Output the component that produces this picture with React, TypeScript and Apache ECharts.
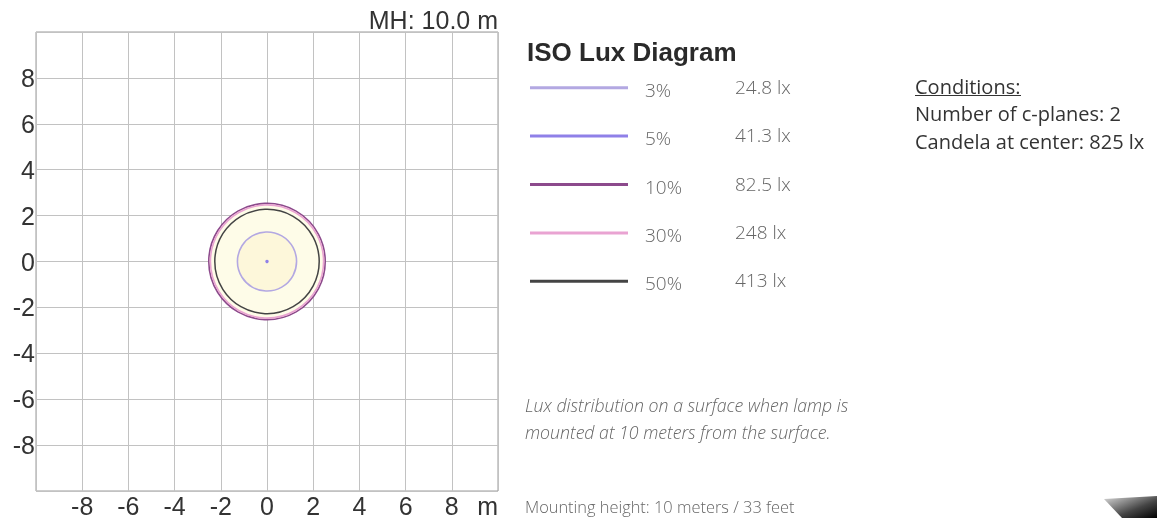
import React, { useEffect, useRef } from "react";
import * as echarts from "echarts";

// ---- data ----
const axisMin = -10;
const axisMax = 10;
const axisStep = 2;
const axisUnit = "m";
const mountingHeightLabel = "MH: 10.0 m";

const levelLabels = ["3%", "5%", "10%", "30%", "50%"];
const luxLabels = ["24.8 lx", "41.3 lx", "82.5 lx", "248 lx", "413 lx"];
const levelColors = ["#b3a8e2", "#8f80e8", "#8c4a8c", "#e9a3d2", "#444444"];
// radius (m) of each contour, listed by level
const contourRadii = [1.28, 0.04, 2.52, 2.45, 2.26];

const titleText = "ISO Lux Diagram";
const conditionsTitle = "Conditions:";
const conditionLines = ["Number of c-planes: 2", "Candela at center: 825 lx"];
const noteLines = [
  "Lux distribution on a surface when lamp is",
  "mounted at 10 meters from the surface.",
];
const footerText = "Mounting height: 10 meters / 33 feet";

export default function App() {
  const ref = useRef<HTMLDivElement>(null);

  useEffect(() => {
    if (!ref.current) return;
    const chart = echarts.init(ref.current, undefined, { renderer: "svg" });

    // draw contours from largest to smallest so fills stack
    const order = contourRadii
      .map((r, i) => ({ r, i }))
      .sort((a, b) => b.r - a.r);
    const outerIdx = order[0].i;
    const innerIdx = 0;

    const legendTop = 87.7;
    const legendGap = 48.4;
    const lightFont = "'Open Sans'";
    const graphics: any[] = [];

    graphics.push({
      type: "text",
      x: 527,
      y: 52,
      style: {
        text: titleText,
        font: "bold 26px 'Liberation Sans'",
        fill: "#2a2a2a",
        textVerticalAlign: "middle",
      },
    });

    levelLabels.forEach((lab, i) => {
      const y = legendTop + i * legendGap;
      graphics.push({
        type: "line",
        shape: { x1: 530, y1: y, x2: 628, y2: y },
        style: { stroke: levelColors[i], lineWidth: 3 },
      });
      graphics.push({
        type: "text",
        x: 645,
        y: y + 2,
        style: {
          text: lab,
          font: `300 19px ${lightFont}`,
          fill: "#666",
          textVerticalAlign: "middle",
        },
      });
      graphics.push({
        type: "text",
        x: 735,
        y: y - 1,
        style: {
          text: luxLabels[i],
          font: `300 19px ${lightFont}`,
          fill: "#666",
          textVerticalAlign: "middle",
        },
      });
    });

    graphics.push({
      type: "text",
      x: 915,
      y: 86.5,
      style: {
        text: conditionsTitle,
        font: `20px ${lightFont}`,
        fill: "#333",
        textVerticalAlign: "middle",
      },
    });
    graphics.push({
      type: "line",
      shape: { x1: 915, y1: 95.5, x2: 1021, y2: 95.5 },
      style: { stroke: "#333", lineWidth: 1 },
    });
    conditionLines.forEach((t, i) => {
      graphics.push({
        type: "text",
        x: 915,
        y: 113.3 + i * 27.7,
        style: {
          text: t,
          font: `20px ${lightFont}`,
          fill: "#333",
          textVerticalAlign: "middle",
        },
      });
    });

    noteLines.forEach((t, i) => {
      graphics.push({
        type: "text",
        x: 525,
        y: 405 + i * 26.7,
        style: {
          text: t,
          font: `italic 300 17.7px ${lightFont}`,
          fill: "#666",
          textVerticalAlign: "middle",
        },
      });
    });

    graphics.push({
      type: "text",
      x: 525,
      y: 506.5,
      style: {
        text: footerText,
        font: `300 16.4px ${lightFont}`,
        fill: "#666",
        textVerticalAlign: "middle",
      },
    });

    graphics.push({
      type: "text",
      x: 498,
      y: 20,
      style: {
        text: mountingHeightLabel,
        font: "25px 'Liberation Sans'",
        fill: "#333",
        textAlign: "right",
        textVerticalAlign: "middle",
      },
    });

    graphics.push({
      type: "polygon",
      shape: {
        points: [
          [1104, 499],
          [1157, 496],
          [1157, 518],
          [1122, 518],
        ],
      },
      style: {
        fill: new echarts.graphic.LinearGradient(0, 0, 1, 1, [
          { offset: 0, color: "#dddddd" },
          { offset: 0.6, color: "#444444" },
          { offset: 1, color: "#000000" },
        ]),
      },
    });

    const labelFmt = (v: number) =>
      v === axisMax ? axisUnit : v === axisMin ? "" : String(v);
    const yLabelFmt = (v: number) =>
      v === axisMax || v === axisMin ? "" : String(v);

    chart.setOption({
      animation: false,
      grid: {
        left: 36,
        top: 32,
        width: 462,
        height: 461,
        show: true,
        borderColor: "#9a9a9a",
        borderWidth: 1,
        containLabel: false,
      },
      xAxis: {
        type: "value",
        min: axisMin,
        max: axisMax,
        interval: axisStep,
        axisLine: { show: false },
        axisTick: { show: false },
        splitLine: { show: true, lineStyle: { color: "#c2c2c2", width: 1 } },
        axisLabel: {
          formatter: labelFmt,
          fontSize: 25,
          fontFamily: "Liberation Sans",
          color: "#333",
          margin: 2,
          showMinLabel: true,
          showMaxLabel: true,
          alignMaxLabel: "right",
        },
      },
      yAxis: {
        type: "value",
        min: axisMin,
        max: axisMax,
        interval: axisStep,
        axisLine: { show: false },
        axisTick: { show: false },
        splitLine: { show: true, lineStyle: { color: "#c2c2c2", width: 1 } },
        axisLabel: {
          formatter: yLabelFmt,
          fontSize: 25,
          fontFamily: "Liberation Sans",
          color: "#333",
          margin: 1,
        },
      },
      series: [
        {
          type: "custom",
          coordinateSystem: "cartesian2d",
          clip: true,
          data: order.map((o) => [o.r, o.i]),
          renderItem: (params: any, api: any) => {
            const r = api.value(0);
            const idx = api.value(1);
            const c = api.coord([0, 0]);
            const rr = api.size([r, 0])[0];
            let fill = "none";
            if (idx === outerIdx) fill = "#fefce8";
            else if (idx === innerIdx) fill = "#fdf7da";
            return {
              type: "circle",
              shape: { cx: c[0], cy: c[1], r: rr },
              style: {
                fill,
                stroke: levelColors[idx],
                lineWidth: idx === 4 ? 1.5 : 1.6,
              },
            };
          },
        },
      ],
      graphic: graphics,
    });

    return () => chart.dispose();
  }, []);

  return (
    <div
      ref={ref}
      style={{ position: "fixed", left: 0, top: 0, width: 1157, height: 518 }}
    />
  );
}
